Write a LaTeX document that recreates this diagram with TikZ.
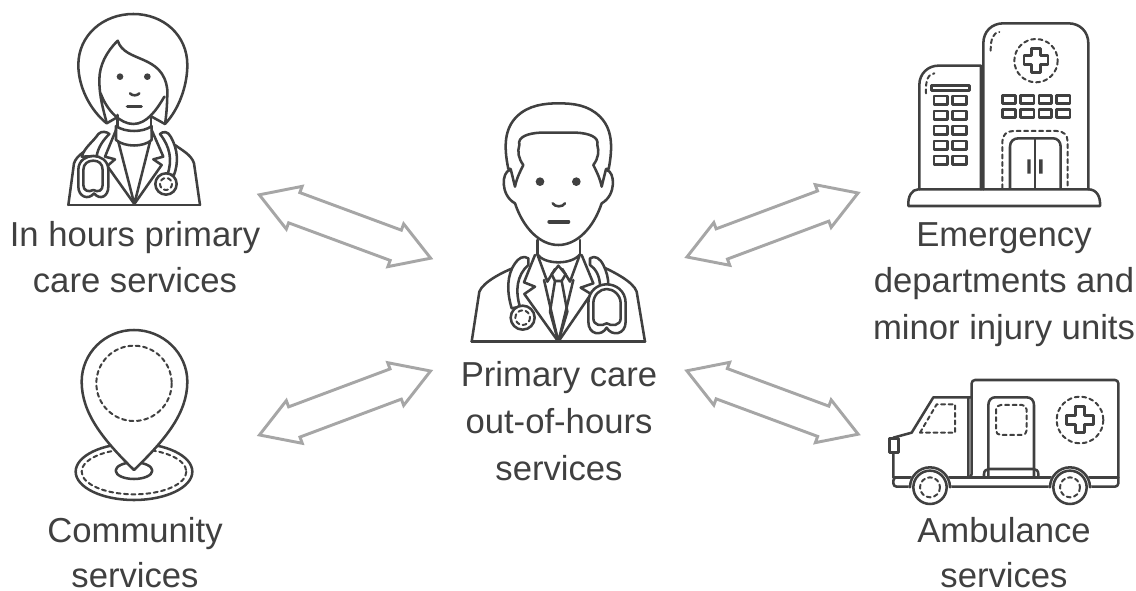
\documentclass[tikz,border=0pt]{standalone}
\usepackage{fontspec}
\setmainfont{Liberation Sans}
\usetikzlibrary{shapes.arrows}
\definecolor{icongray}{HTML}{404040}
\definecolor{arrowgray}{HTML}{A6A6A6}
\tikzset{
  icon/.style={draw=icongray, line width=1.9pt, line join=round, line cap=round},
  dashline/.style={draw=icongray, line width=1.5pt, dash pattern=on 3pt off 2.6pt},
  solid dot/.style={fill=icongray, draw=none},
  caption/.style={text=icongray, align=center, font=\fontsize{26}{35}\selectfont, inner sep=0pt},
  lowcaption/.style={caption, font=\fontsize{26}{34}\selectfont},
  linkarrow/.style={double arrow, draw=arrowgray, line width=2.2pt, fill=white, inner xsep=0pt, inner ysep=11pt, outer sep=0pt,
    minimum height=137pt, minimum width=32pt, double arrow head extend=5pt, double arrow head indent=0pt,
    double arrow tip angle=63}
}
\begin{document}
\begin{tikzpicture}[x=0.75pt,y=-0.75pt]
  \useasboundingbox (0,0) rectangle (1136,591);

  % female doctor
  \begin{scope}[shift={(50,0)},scale=1/3,icon]
    \draw (55,615) -- (72,490) .. controls (80,465) and (110,450) .. (135,435);
    \draw (450,615) -- (432,490) .. controls (425,465) and (395,450) .. (375,435);
    \draw (55,615) -- (450,615);
    \draw[fill=white] (85,195) .. controls (85,105) and (160,42) .. (250,42) .. controls (340,42) and (412,105) .. (412,195) .. controls (412,260) and (385,330) .. (345,372) -- (305,350) -- (205,350) -- (170,370) .. controls (120,330) and (85,260) .. (85,195) -- cycle;
    \draw[fill=white] (203,122) .. controls (170,155) and (148,195) .. (148,240) .. controls (148,290) and (160,330) .. (170,368) (152,280) .. controls (170,330) and (210,372) .. (250,372) .. controls (290,372) and (320,330) .. (343,290) (203,122) .. controls (225,190) and (340,160) .. (352,270) .. controls (352,305) and (350,340) .. (345,372);
    \fill[solid dot] (210,230) circle (10) (292,230) circle (10);
    \draw (240,280) .. controls (246,288) and (262,288) .. (268,280);
    \draw[line width=2.4pt] (232,320) -- (274,320);
    \draw (203,345) -- (203,378) (303,345) -- (303,378);
    \draw (198,378) .. controls (225,398) and (280,398) .. (305,378) (198,378) -- (198,420) (305,378) -- (305,420);
    \draw (198,420) .. controls (225,442) and (280,442) .. (305,420);
    \draw (205,425) -- (253,612) -- (300,425);
    \draw (198,390) -- (165,470) -- (195,478) -- (172,498) -- (253,612) -- (335,495) -- (310,478) -- (340,470) -- (305,390);
    % stethoscope
    \draw[fill=white] (95,470) .. controls (105,440) and (130,425) .. (145,402) .. controls (155,392) and (170,395) .. (178,402) .. controls (160,420) and (145,440) .. (140,468) -- cycle;
    \draw[fill=white] (85,510) .. controls (85,480) and (110,468) .. (130,468) .. controls (150,468) and (175,480) .. (175,510) -- (175,560) .. controls (175,590) and (150,602) .. (132,580) .. controls (115,602) and (85,590) .. (85,560) -- cycle;
    \draw (100,510) .. controls (100,490) and (115,482) .. (130,482) .. controls (145,482) and (158,490) .. (158,510) -- (158,555) .. controls (158,572) and (145,578) .. (130,570) .. controls (115,578) and (100,572) .. (100,555) -- cycle;
    \draw[fill=white] (330,402) .. controls (340,392) and (355,395) .. (362,410) .. controls (385,450) and (385,490) .. (372,525) -- (352,525) .. controls (368,480) and (360,440) .. (330,402) -- cycle;
    \draw[fill=white] (348,552) circle (32);
    \draw[dashline] (348,552) circle (18);
  \end{scope}

  % male doctor
  \begin{scope}[shift={(460,95)},scale=1/3,icon]
    \draw (35,740) -- (58,590) .. controls (70,560) and (130,530) .. (170,515);
    \draw (555,740) -- (530,590) .. controls (520,560) and (460,530) .. (420,512);
    \draw (35,740) -- (555,740);
    \draw (232,435) -- (232,478) (360,435) -- (360,478);
    \draw[fill=white] (150,225) .. controls (125,230) and (120,300) .. (165,325) .. controls (190,400) and (240,450) .. (295,450) .. controls (350,450) and (400,400) .. (425,325) .. controls (470,300) and (465,230) .. (440,225);
    \draw[fill=white] (145,222) .. controls (130,150) and (135,100) .. (170,65) .. controls (205,30) and (255,25) .. (295,25) .. controls (340,25) and (385,30) .. (420,65) .. controls (455,100) and (460,150) .. (446,222) -- (438,222) -- (425,275) .. controls (420,250) and (410,230) .. (400,210) .. controls (415,190) and (418,170) .. (412,150) .. controls (418,125) and (385,115) .. (350,113) -- (240,113) .. controls (205,115) and (172,125) .. (178,150) .. controls (172,170) and (175,190) .. (190,210) .. controls (180,230) and (170,250) .. (165,275) -- (152,222) -- cycle;
    \fill[solid dot] (240,260) circle (13) (349,260) circle (13);
    \draw (278,325) .. controls (285,337) and (308,337) .. (315,325);
    \draw[line width=3pt] (268,380) -- (325,380);
    \draw (232,478) .. controls (255,510) and (335,510) .. (360,478);
    \draw (232,478) -- (262,560) -- (285,522) (360,478) -- (330,560) -- (307,522);
    \draw (295,512) -- (275,538) -- (285,558) -- (305,558) -- (317,538) -- cycle;
    \draw (285,558) -- (270,650) -- (295,740) -- (322,650) -- (305,558);
    \draw (252,555) -- (295,740) -- (340,555);
    \draw (225,480) -- (192,562) -- (225,575) -- (193,597) -- (295,740) -- (393,597) -- (362,578) -- (400,565) -- (365,480);
    % stethoscope
    \draw[fill=white] (205,490) .. controls (190,480) and (175,490) .. (165,505) .. controls (140,540) and (140,590) .. (155,640) -- (180,635) .. controls (165,590) and (170,540) .. (205,510) -- cycle;
    \draw[fill=white] (188,668) circle (36);
    \draw[dashline] (188,668) circle (22);
    \draw[fill=white] (390,490) .. controls (405,480) and (420,490) .. (430,510) .. controls (440,530) and (445,550) .. (445,570) -- (420,575) .. controls (420,540) and (405,520) .. (390,510) -- cycle;
    \draw[fill=white] (385,625) .. controls (385,585) and (415,568) .. (440,568) .. controls (465,568) and (497,585) .. (497,625) -- (497,680) .. controls (497,720) and (455,725) .. (440,698) .. controls (425,725) and (385,720) .. (385,680) -- cycle;
    \draw (400,625) .. controls (400,600) and (420,582) .. (440,582) .. controls (460,582) and (482,600) .. (482,625) -- (482,670) .. controls (482,692) and (455,695) .. (440,685) .. controls (425,695) and (400,692) .. (400,670) -- cycle;
  \end{scope}

  % hospital
  \begin{scope}[shift={(900,10)},scale=1/3,icon]
    \draw (58,538) -- (58,225) .. controls (58,190) and (85,167) .. (115,167) -- (243,167) -- (243,538);
    \draw (250,538) -- (250,100) .. controls (250,65) and (275,40) .. (310,40) -- (505,40) .. controls (540,40) and (565,65) .. (565,100) -- (565,538);
    \draw (25,588) -- (600,588) .. controls (602,560) and (590,538) .. (565,538) -- (55,538) .. controls (35,538) and (23,560) .. (25,588) -- cycle;
    \draw[dashline] (272,122) .. controls (272,85) and (280,68) .. (298,66);
    \draw[dashline] (78,250) .. controls (76,210) and (85,192) .. (103,190);
    \draw[dashline] (408,152) circle (65);
    \draw (394,116) -- (422,116) -- (422,136) -- (444,136) -- (444,164) -- (422,164) -- (422,187) -- (394,187) -- (394,164) -- (372,164) -- (372,136) -- (394,136) -- cycle;
    \draw (95,226) rectangle (208,242);
    \foreach \y in {258,303,348,393,438} {
      \draw (102,\y) rectangle (143,\y+25);
      \draw (158,\y) rectangle (200,\y+25);
    }
    \foreach \x/\w in {307/40,362/40,417/38,470/40} {
      \draw (\x,256) rectangle (\x+\w,281);
      \draw (\x,298) rectangle (\x+\w,323);
    }
    \draw[dashline] (307,535) -- (307,395) .. controls (307,375) and (320,363) .. (340,363) -- (470,363) .. controls (490,363) and (503,375) .. (503,395) -- (503,535);
    \draw (330,535) -- (330,410) .. controls (330,395) and (340,385) .. (355,385) -- (460,385) .. controls (472,385) and (482,395) .. (482,410) -- (482,535);
    \draw (405,385) -- (405,535);
    \fill[solid dot] (382,448) rectangle (392,491) (417,448) rectangle (428,491);
  \end{scope}

  % ambulance
  \begin{scope}[shift={(880,370)},scale=1/3,icon]
    \draw[rounded corners=2.5pt] (275,322) -- (275,30) -- (715,30) -- (715,350) -- (40,350) -- (40,322) -- cycle;
    \draw (40,322) -- (715,322);
    \draw (40,322) -- (40,203) -- (95,188) -- (160,82) -- (265,82) -- (265,322) (265,82) -- (275,82);
    \draw[fill=white] (28,205) rectangle (55,248);
    \draw[dashline] (120,188) -- (170,103) -- (225,103) -- (225,188) -- cycle;
    \draw (325,322) -- (325,105) .. controls (325,90) and (335,82) .. (345,82) -- (440,82) .. controls (452,82) and (462,90) .. (462,105) -- (462,322);
    \draw (312,322) -- (312,312) .. controls (312,302) and (320,297) .. (328,297) -- (460,297) .. controls (468,297) and (475,302) .. (475,312) -- (475,322);
    \draw[dashline,rounded corners=3.5pt] (348,105) rectangle (440,195);
    \draw[dashline] (600,150) circle (70);
    \draw (587,110) -- (613,110) -- (613,137) -- (640,137) -- (640,163) -- (613,163) -- (613,187) -- (587,187) -- (587,163) -- (560,163) -- (560,137) -- (587,137) -- cycle;
    \foreach \x in {150,570} {
      \draw[fill=white,draw=none] (\x,352) circle (64);
      \draw (\x-60,352) arc (180:360:60);
      \draw[fill=white] (\x,352) circle (50);
      \draw[dashline] (\x,352) circle (30);
    }
  \end{scope}

  % location pin
  \begin{scope}[shift={(60,330)},scale=1/3,icon]
    \draw (222,425) ellipse (175 and 85);
    \draw[dashline] (222,425) ellipse (157 and 68);
    \draw (222,422) ellipse (55 and 25);
    \draw[fill=white] (222,420) .. controls (130,330) and (65,250) .. (65,155) .. controls (65,70) and (135,0) .. (222,0) .. controls (310,0) and (382,70) .. (382,155) .. controls (382,250) and (315,330) .. (222,420) -- cycle;
    \draw[dashline] (222,160) circle (113);
  \end{scope}

  % links
  \node[linkarrow,rotate=-20.3] (linkhours) at (345,226.5) {};
  \node[linkarrow,rotate=20.5] (linkcomm) at (345,403) {};
  \node[linkarrow,rotate=20.5] (linkemerg) at (772.5,225) {};
  \node[linkarrow,rotate=-20.3] (linkamb) at (772.5,402.5) {};

  % labels
  \node[caption] (hours) at (135,257) {In hours primary\\care services};
  \node[caption] (central) at (559,421) {Primary care\\out-of-hours\\services};
  \node[caption] (emerg) at (1004,284.5) {Emergency\\departments and\\minor injury units};
  \node[lowcaption] (comm) at (135,552.5) {Community\\services};
  \node[lowcaption] (amb) at (1004,552.5) {Ambulance\\services};
\end{tikzpicture}
\end{document}
